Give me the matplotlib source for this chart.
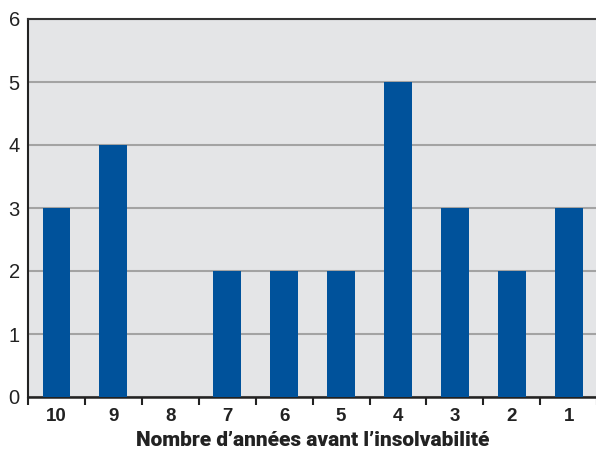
import matplotlib
matplotlib.use("Agg")
import matplotlib.pyplot as plt
import numpy as np

categories = ["10", "9", "8", "7", "6", "5", "4", "3", "2", "1"]
values = [3, 4, 0, 2, 2, 2, 5, 3, 2, 3]
y_ticks = [0, 1, 2, 3, 4, 5, 6]
x_label = "Nombre d\u2019années avant l\u2019insolvabilité"

bar_color = "#00529B"
bg_color = "#E4E5E7"
grid_color = "#A3A3A3"

fig = plt.figure(figsize=(5.96, 4.5), dpi=100)
ax = fig.add_axes([28/596, 1-397/450, 1-28/596+0.002, (397-19)/450])
ax.set_facecolor(bg_color)

x = np.arange(len(categories))
ax.bar(x, values, width=0.49, color=bar_color, zorder=3)

ax.set_xlim(-0.5, 9.5)
ax.set_ylim(0, 6)
ax.set_yticks(y_ticks)
ax.set_yticklabels([str(v) for v in y_ticks], fontsize=14.5, color="#222222",
                   family="Liberation Sans")
for lab in ax.get_yticklabels():
    lab.set_horizontalalignment("left")
ax.tick_params(axis="y", length=0, pad=14)

ax.yaxis.grid(True, color=grid_color, linewidth=1.5, zorder=1)
ax.set_axisbelow(True)

ax.set_xticks(np.arange(-0.5, 10.0, 1.0))
ax.set_xticklabels([])
ax.tick_params(axis="x", which="major", length=6, width=1.5, color="#222222", direction="out")
ax.set_xticks(x, minor=True)
ax.set_xticklabels(categories, minor=True, fontsize=13.5, fontweight="bold",
                   family="Liberation Sans", color="#222222")
ax.tick_params(axis="x", which="minor", length=0, pad=8)

ax.set_xlabel(x_label, fontsize=15, fontweight=900, family="Roboto",
              color="#222222", labelpad=4)

ax.spines["right"].set_visible(False)
ax.spines["left"].set_color("#222222")
ax.spines["left"].set_linewidth(1.5)
ax.spines["bottom"].set_color("#222222")
ax.spines["bottom"].set_linewidth(1.8)
ax.spines["top"].set_color("#333333")
ax.spines["top"].set_linewidth(1.5)

fig.savefig("out.png", dpi=100)
